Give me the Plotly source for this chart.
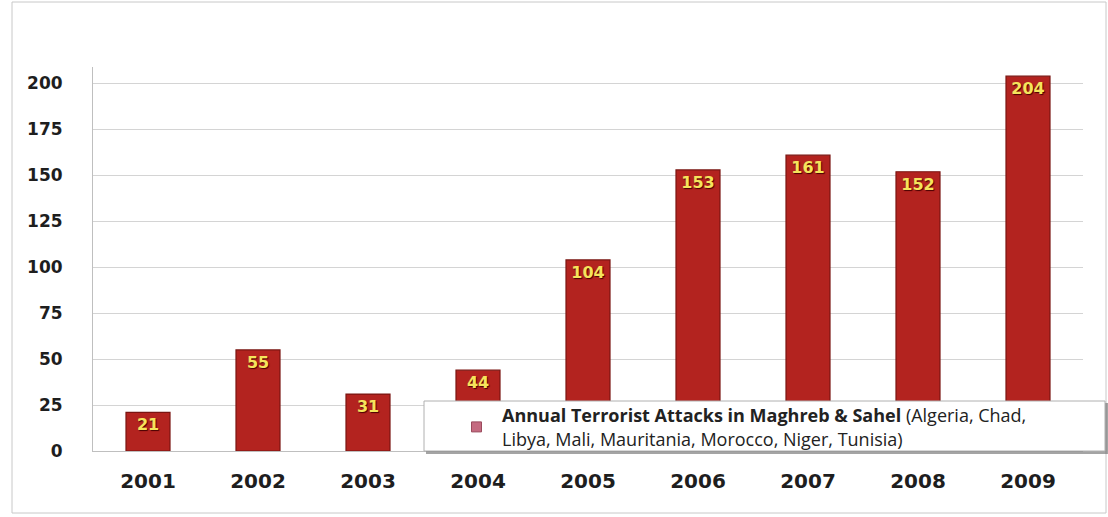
import plotly.graph_objects as go

years = ["2001", "2002", "2003", "2004", "2005", "2006", "2007", "2008", "2009"]
attacks = [21, 55, 31, 44, 104, 153, 161, 152, 204]
y_ticks = [0, 25, 50, 75, 100, 125, 150, 175, 200]
series_name = ("<b>Annual Terrorist Attacks in Maghreb &amp; Sahel</b> (Algeria, Chad,<br>"
               "Libya, Mali, Mauritania, Morocco, Niger, Tunisia)")

W, H = 1108, 517
L, R, T, B = 93, 25, 67, 66
pw, ph = W - L - R, H - T - B

def px_x(x):
    return (x - L) / pw

def px_y(y):
    return (H - B - y) / ph

fig = go.Figure()
fig.add_trace(go.Bar(
    x=years, y=attacks, name=series_name,
    width=0.4,
    marker=dict(color="#b3231f", line=dict(color="#7a1411", width=1.2)),
    text=[str(v) for v in attacks],
    textposition="inside", insidetextanchor="end",
    textangle=0,
    textfont=dict(family="DejaVu Sans", size=16, color="#f5e45c", weight="bold",
                  shadow="1px 1px 1px #4a0000"),
    showlegend=False,
))
# legend-only entry (pinkish swatch as in the reference)
fig.add_trace(go.Scatter(
    x=[None], y=[None], mode="markers", name=series_name,
    marker=dict(symbol="square", size=10, color="#c46a80",
                line=dict(color="#9a4a5c", width=1)),
    showlegend=True,
))

fig.update_layout(
    width=W, height=H,
    margin=dict(l=L, r=R, t=T, b=B),
    paper_bgcolor="white", plot_bgcolor="white",
    uniformtext=dict(minsize=8, mode="show"),
    xaxis=dict(
        tickfont=dict(family="DejaVu Sans", size=20, color="#1e1e1e", weight="bold"),
        showgrid=False, showline=True, linecolor="#bfbfbf", linewidth=1,
        ticks="", ticklabelstandoff=12,
    ),
    yaxis=dict(
        range=[0, 209], tickvals=y_ticks,
        tickfont=dict(family="DejaVu Sans", size=17, color="#1e1e1e", weight="bold"),
        showgrid=True, gridcolor="#d4d4d4", gridwidth=1,
        showline=True, linecolor="#bfbfbf", linewidth=1,
        zeroline=False, ticks="", ticklabelstandoff=26,
    ),
    legend=dict(
        x=px_x(451), y=px_y(397), xanchor="left", yanchor="top",
        bgcolor="rgba(0,0,0,0)", borderwidth=0,
        font=dict(family="Open Sans", size=18, color="#222222"),
        itemwidth=41, tracegroupgap=0,
    ),
    shapes=[
        dict(type="rect", xref="paper", yref="paper",
             x0=px_x(12), x1=px_x(1106), y0=px_y(513), y1=px_y(2),
             line=dict(color="#c8c8c8", width=1), fillcolor="rgba(0,0,0,0)", layer="below"),
        # legend box shadow and box
        dict(type="rect", xref="paper", yref="paper",
             x0=px_x(426), x1=px_x(1108), y0=px_y(454), y1=px_y(403),
             line=dict(width=0), fillcolor="rgba(90,90,90,0.55)", layer="above"),
        dict(type="rect", xref="paper", yref="paper",
             x0=px_x(424), x1=px_x(1105), y0=px_y(451), y1=px_y(401),
             line=dict(color="#b0b0b0", width=1), fillcolor="white", layer="above"),
    ],
)

fig.write_html("out.html", config={"displayModeBar": False},
               post_script="document.body.style.margin='0';")
